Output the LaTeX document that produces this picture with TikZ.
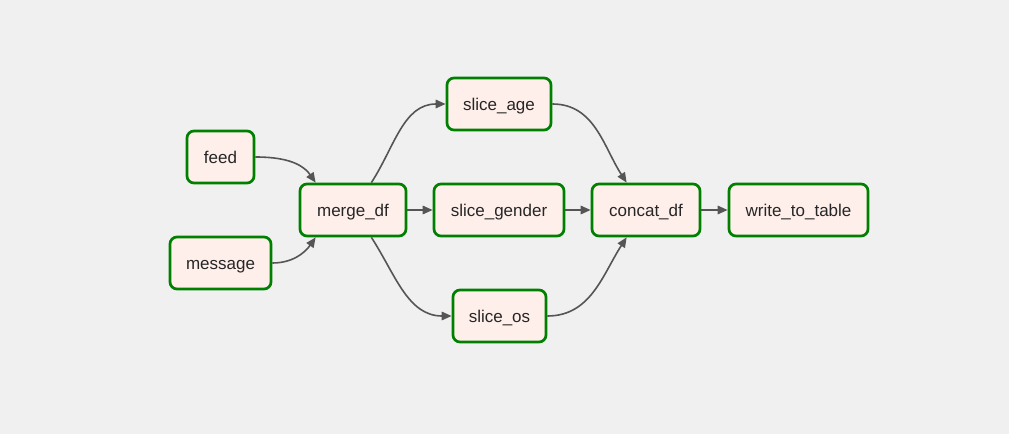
\documentclass[tikz,border=0pt]{standalone}
\usepackage{fontspec}
\setmainfont{Liberation Sans}
\usetikzlibrary{arrows.meta}
\definecolor{bgc}{HTML}{F0F0F0}
\definecolor{taskfill}{HTML}{FFEFEA}
\definecolor{taskline}{HTML}{008000}
\definecolor{edgec}{HTML}{555555}
\begin{document}
\begin{tikzpicture}[x=1pt,y=1pt,line join=round,>={Triangle[length=10pt,width=8.5pt]},
	task/.style={draw=taskline,fill=taskfill,line width=2.7pt,rounded corners=7pt,minimum height=52pt,inner sep=0pt,text height=13pt,text depth=0pt,text=black!85,font=\fontsize{17}{19}\selectfont},
	edge/.style={->,draw=edgec,line width=1.6pt}]
	\fill[bgc] (0,0) rectangle (1009,434);
	\useasboundingbox (0,0) rectangle (1009,434);
	\node[task,minimum width=67pt](feed) at (220.5,277) {feed};
	\node[task,minimum width=101pt](message) at (220.5,171) {message};
	\node[task,minimum width=106pt](merge_df) at (353,224) {merge\_df};
	\node[task,minimum width=104pt](slice_age) at (499,330) {slice\_age};
	\node[task,minimum width=130pt](slice_gender) at (499,224) {slice\_gender};
	\node[task,minimum width=93pt](slice_os) at (499.5,118) {slice\_os};
	\node[task,minimum width=108pt](concat_df) at (646,224) {concat\_df};
	\node[task,minimum width=139pt](write_to_table) at (798.5,224) {write\_to\_table};
	\draw[edge] (feed.east) to[out=0,in=125] ([xshift=17pt]merge_df.north west);
	\draw[edge] (message.east) to[out=0,in=235] ([xshift=17pt]merge_df.south west);
	\draw[edge] ([xshift=-36pt]merge_df.north east) to[out=57,in=180] (slice_age.west);
	\draw[edge] ([xshift=-36pt]merge_df.south east) to[out=-57,in=180] (slice_os.west);
	\draw[edge] (merge_df) -- (slice_gender);
	\draw[edge] (slice_gender) -- (concat_df);
	\draw[edge] (concat_df) -- (write_to_table);
	\draw[edge] (slice_age.east) to[out=0,in=123] ([xshift=36pt]concat_df.north west);
	\draw[edge] (slice_os.east) to[out=0,in=237] ([xshift=36pt]concat_df.south west);
\end{tikzpicture}
\end{document}
